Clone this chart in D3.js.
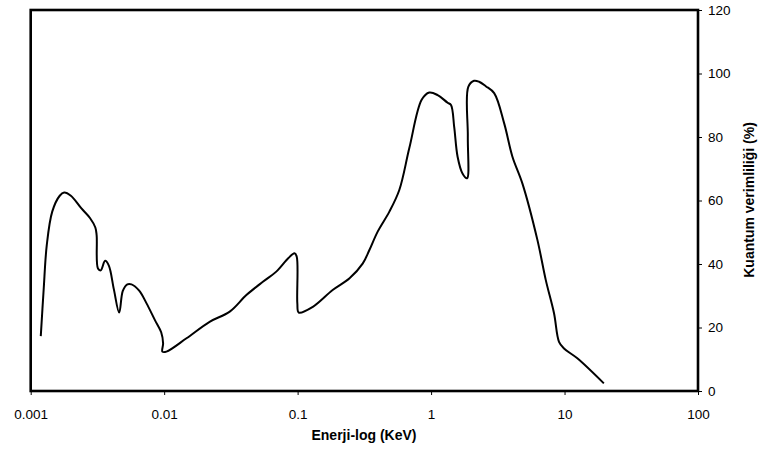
<!DOCTYPE html>
<html>
<head>
<meta charset="utf-8">
<script src="https://cdn.jsdelivr.net/npm/d3@7"></script>
<style>
  body { margin: 0; background: #fff; }
  svg { font-family: "Liberation Sans", Arial, sans-serif; }
</style>
</head>
<body>
<svg></svg>
<script>
// energy (keV) and quantum efficiency (%)
let energy = [0.00119, 0.00125, 0.00132, 0.00145, 0.00165, 0.00178, 0.00200, 0.00240, 0.00278, 0.00305, 0.00312, 0.00319,
  0.00335, 0.00361, 0.00385, 0.00420, 0.00460, 0.00490, 0.00530, 0.00569, 0.00650, 0.00738, 0.00851, 0.00950, 0.00982,
  0.00970, 0.0104, 0.0147, 0.0219, 0.0310, 0.0413, 0.0549, 0.0692, 0.0850, 0.0948, 0.0985, 0.0995, 0.102, 0.130, 0.183,
  0.245, 0.308, 0.345, 0.398, 0.487, 0.578, 0.687, 0.850, 0.970, 1.12, 1.33, 1.41, 1.49, 1.58, 1.72,
  1.86, 1.885, 1.90, 2.10, 2.29, 2.57, 2.97, 3.53, 4.07, 4.83, 6.26, 7.23, 8.34, 9.09, 9.91, 12.47, 19.7]
let efficiency = [17.3, 31.8, 46, 56.5, 61.5, 62.5, 61.5, 57.5, 54.5, 51.5, 49, 38.6,
  38.0, 41, 39.5, 32, 24.7, 31.5, 33.6, 33.6, 31.6, 27.6, 22.4, 18.5, 15,
  12.4, 12.4, 16.6, 21.8, 25, 30.2, 34.4, 37.6, 41.8, 43.4, 42.3, 27.6, 24.7, 26.5, 31.8,
  35.5, 40.2, 44.4, 50.2, 56.5, 63.3, 76.5, 91.7, 94, 93.2, 90.8, 90.1, 83.2, 73.8, 68.5,
  67, 80, 95.8, 97.7, 97.4, 96, 93.8, 84.3, 73.8, 65.4, 47.6, 35, 24.5, 15.5, 13.4, 10.3, 2.4]

let xTicks = [0.001, 0.01, 0.1, 1, 10, 100]
let yTicks = [0, 20, 40, 60, 80, 100, 120]

let width = 758
let height = 450
let plotLeft = 30.7
let plotRight = 698
let plotTop = 10
let plotBottom = 391

let svg = d3.select('svg')
    .attr('width', width)
    .attr('height', height)

let xScale = d3.scaleLog()
    .domain([0.001, 100])
    .range([plotLeft, plotRight])

let yScale = d3.scaleLinear()
    .domain([0, 120])
    .range([plotBottom, plotTop])

let points = energy.map((e, i) => [e, efficiency[i]])

// frame
svg.append('rect')
    .attr('x', plotLeft)
    .attr('y', plotTop)
    .attr('width', plotRight - plotLeft)
    .attr('height', plotBottom - plotTop)
    .attr('fill', 'none')
    .attr('stroke', '#000')
    .attr('stroke-width', 2.6)

let xAxis = d3.axisBottom(xScale)
    .tickValues(xTicks)
    .tickFormat(d => d3.format('')(d))
    .tickSize(4)
    .tickPadding(14)
let yAxis = d3.axisRight(yScale)
    .tickValues(yTicks)
    .tickSize(4)
    .tickPadding(6)

let gx = svg.append('g')
    .attr('transform', 'translate(0,' + plotBottom + ')')
    .call(xAxis)
let gy = svg.append('g')
    .attr('transform', 'translate(' + plotRight + ',0)')
    .call(yAxis)

for (let g of [gx, gy]) {
    g.select('.domain').remove()
    g.selectAll('text').attr('font-size', 13.5).attr('font-family', '"Liberation Sans", Arial, sans-serif').attr('fill', '#000')
    g.selectAll('line').attr('stroke', '#000')
}

svg.append('path')
    .datum(points)
    .attr('fill', 'none')
    .attr('stroke', '#000')
    .attr('stroke-width', 2)
    .attr('stroke-linejoin', 'round')
    .attr('d', d3.line()
        .x(d => xScale(d[0]))
        .y(d => yScale(d[1]))
        .curve(d3.curveCatmullRom.alpha(0.5)))

svg.append('text')
    .attr('x', 364)
    .attr('y', 440)
    .attr('text-anchor', 'middle')
    .attr('font-size', 14)
    .attr('font-weight', 'bold')
    .text('Enerji-log (KeV)')

svg.append('text')
    .attr('transform', 'translate(754,200) rotate(-90)')
    .attr('text-anchor', 'middle')
    .attr('font-size', 14)
    .attr('font-weight', 'bold')
    .text('Kuantum verimliliği (%)')
</script>
</body>
</html>
